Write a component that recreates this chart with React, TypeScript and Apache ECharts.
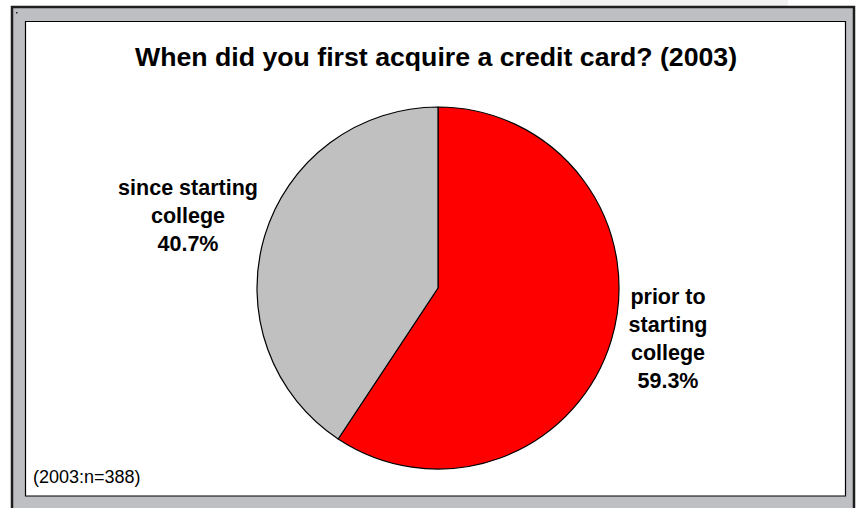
import React, { useEffect, useRef } from "react";
import * as echarts from "echarts";

const categories = ["prior to\nstarting\ncollege", "since starting\ncollege"];
const values = [59.3, 40.7];
const sliceColors = ["#ff0000", "#c0c0c0"];
const titleText = "When did you first acquire a credit card? (2003)";
const noteText = "(2003:n=388)";

const FONT = "'Liberation Sans', Arial, Helvetica, sans-serif";
const LABEL_POS: [number, number][] = [
  [668, 339],
  [188, 216],
];

export default function App() {
  const ref = useRef<HTMLDivElement>(null);
  useEffect(() => {
    if (!ref.current) return;
    const chart = echarts.init(ref.current, null, { renderer: "svg" });
    chart.setOption({
      animation: false,
      backgroundColor: "#ffffff",
      graphic: [
        {
          type: "rect",
          z: 0,
          shape: { x: 560, y: 0, width: 228, height: 6 },
          style: { fill: "#f1f1f1" },
        },
        {
          type: "rect",
          z: 0,
          shape: { x: 12, y: 7, width: 842, height: 520 },
          style: { fill: "#bebfc3", stroke: "#1e1e1e", lineWidth: 2.5 },
        },
        {
          type: "rect",
          z: 0,
          shape: { x: 16, y: 12, width: 1.5, height: 1.5 },
          style: { fill: "#222" },
        },
        {
          type: "rect",
          z: 1,
          shape: { x: 25.5, y: 21.5, width: 820, height: 474.5 },
          style: { fill: "#ffffff", stroke: "#000000", lineWidth: 1.2 },
        },
        {
          type: "text",
          z: 3,
          x: 436,
          y: 57,
          style: {
            text: titleText,
            fill: "#000",
            font: `bold 26.7px ${FONT}`,
            align: "center",
            verticalAlign: "middle",
          },
        },
        {
          type: "text",
          z: 3,
          x: 33,
          y: 477,
          style: {
            text: noteText,
            fill: "#000",
            font: `18px ${FONT}`,
            align: "left",
            verticalAlign: "middle",
          },
        },
      ],
      series: [
        {
          type: "pie",
          z: 5,
          center: [438, 288],
          radius: 181,
          startAngle: 90,
          clockwise: true,
          silent: true,
          data: categories.map((name, i) => ({
            name,
            value: values[i],
            itemStyle: { color: sliceColors[i] },
          })),
          itemStyle: { borderColor: "#000", borderWidth: 1.2 },
          label: {
            show: true,
            position: "outside",
            formatter: (p: any) => `${p.name}\n${values[p.dataIndex].toFixed(1)}%`,
            fontFamily: FONT,
            fontWeight: "bold",
            fontSize: 21.5,
            lineHeight: 28,
            color: "#000",
            align: "center",
          },
          labelLine: { show: false },
          labelLayout: (params: any) => ({
            x: LABEL_POS[params.dataIndex][0],
            y: LABEL_POS[params.dataIndex][1],
            align: "center",
            verticalAlign: "middle",
          }),
        },
      ],
    });
    return () => chart.dispose();
  }, []);
  return (
    <div
      ref={ref}
      style={{ position: "fixed", left: 0, top: 0, width: 859, height: 508 }}
    />
  );
}
